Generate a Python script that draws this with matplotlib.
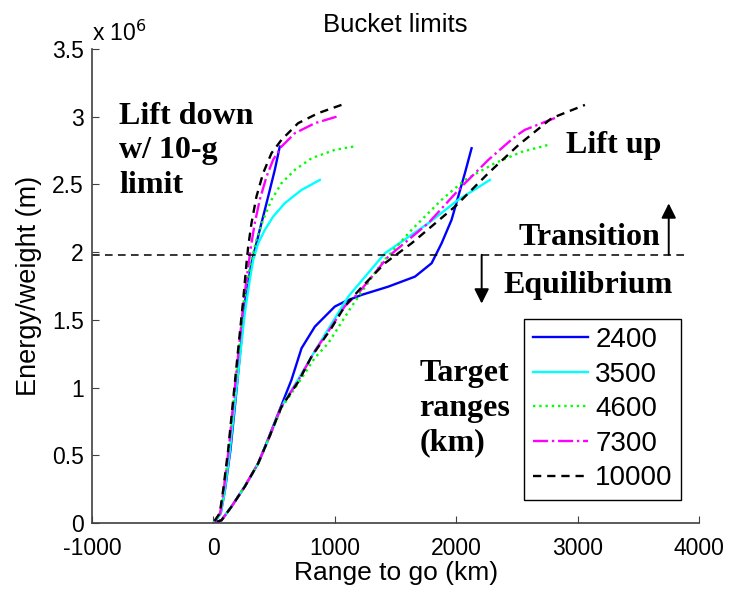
import numpy as np
import matplotlib
matplotlib.use("Agg")
import matplotlib.pyplot as plt
from matplotlib.ticker import FuncFormatter

plt.rcParams['font.family'] = ['Liberation Sans', 'DejaVu Sans']
plt.rcParams['axes.unicode_minus'] = False

# range to go (km) vs energy/weight (units of 1e6 m), one list per target range
# each trajectory: lift-down branch from its top end to the origin, then the lift-up branch
x_2400 = [546, 505, 464, 423, 381, 340, 313, 290, 262, 222, 182, 140, 95, 60, 26, 0,
          66, 148, 258, 368, 450, 560, 642, 725, 835, 999, 1081, 1219, 1439, 1659, 1796,
          1878, 1960, 2015, 2070, 2125]
y_2400 = [2.779, 2.607, 2.459, 2.312, 2.164, 2.016, 1.918, 1.80, 1.647, 1.278, 0.908, 0.539, 0.244, 0.072, 0.03, 0.0,
          0.02, 0.12, 0.27, 0.44, 0.62, 0.87, 1.056, 1.29, 1.45, 1.598, 1.635, 1.684, 1.745, 1.819, 1.918,
          2.065, 2.238, 2.41, 2.583, 2.767]

x_3500 = [876, 725, 587, 491, 423, 368, 327, 300, 258, 215, 172, 131, 90, 60, 26, 0,
          66, 148, 258, 368, 450, 560, 697, 835, 972, 1110, 1411, 1768, 2015, 2276]
y_3500 = [2.533, 2.459, 2.361, 2.262, 2.164, 2.065, 1.942, 1.80, 1.55, 1.20, 0.85, 0.50, 0.22, 0.07, 0.03, 0.0,
          0.02, 0.12, 0.27, 0.44, 0.613, 0.86, 1.06, 1.27, 1.47, 1.672, 1.991, 2.213, 2.386, 2.533]

x_4600 = [1151, 999, 807, 670, 560, 478, 409, 354, 313, 292, 252, 210, 168, 127, 86, 57, 24, 0,
          66, 148, 258, 368, 450, 560, 697, 835, 945, 1137, 1384, 1631, 1878, 2070, 2317, 2537, 2757]
y_4600 = [2.779, 2.755, 2.693, 2.607, 2.509, 2.386, 2.238, 2.09, 1.942, 1.85, 1.647, 1.278, 0.908, 0.539, 0.244, 0.072, 0.03, 0.0,
          0.02, 0.12, 0.27, 0.44, 0.61, 0.85, 1.03, 1.22, 1.327, 1.598, 1.918, 2.164, 2.386, 2.533, 2.657, 2.74, 2.792]

x_7300 = [1013, 835, 670, 560, 491, 437, 381, 340, 313, 290, 250, 208, 166, 125, 84, 55, 22, 0,
          66, 148, 258, 368, 450, 560, 697, 835, 972, 1081, 1192, 1439, 1768, 2043, 2263, 2482, 2564, 2839]
y_7300 = [3.0, 2.952, 2.878, 2.779, 2.681, 2.558, 2.386, 2.213, 2.065, 1.917, 1.647, 1.278, 0.908, 0.539, 0.244, 0.072, 0.03, 0.0,
          0.02, 0.12, 0.27, 0.44, 0.613, 0.86, 1.05, 1.27, 1.45, 1.60, 1.696, 1.967, 2.213, 2.484, 2.681, 2.853, 2.903, 3.0]

x_10000 = [1054, 862, 697, 560, 478, 409, 354, 313, 286, 272, 245, 203, 162, 121, 80, 52, 20, 0,
           66, 148, 258, 368, 450, 560, 697, 807, 972, 1081, 1219, 1411, 1631, 1988, 2263, 2510, 2784, 3058]
y_10000 = [3.087, 3.026, 2.952, 2.829, 2.731, 2.583, 2.41, 2.213, 2.04, 1.917, 1.647, 1.278, 0.908, 0.539, 0.244, 0.072, 0.03, 0.0,
           0.02, 0.12, 0.268, 0.44, 0.613, 0.859, 1.04, 1.228, 1.44, 1.60, 1.74, 1.918, 2.065, 2.336, 2.583, 2.79, 2.989, 3.087]

labels = ['2400', '3500', '4600', '7300', '10000']
transition_level = 1.98  # 1e6 m

xs = [x_2400, x_3500, x_4600, x_7300, x_10000]
ys = [y_2400, y_3500, y_4600, y_7300, y_10000]
colors = ['#0000ff', '#00ffff', '#00ff00', '#ff00ff', '#000000']
styles = ['-', '-', ':', '-.', (0, (3.5, 2.5))]

fig = plt.figure(figsize=(7.3, 5.9), dpi=100)
ax = fig.add_axes([0.126, 0.1136, 0.832, 0.8034])

for x, y, c, ls, lab in zip(xs, ys, colors, styles, labels):
    ax.plot(x, np.array(y) * 1e6, color=c, linestyle=ls, lw=1.7, label=lab)

ax.plot([-1000, 3900], [transition_level * 1e6] * 2, color='k', lw=1.1, linestyle=(0, (5, 3.5)))

ax.set_xlim(-1000, 4000)
ax.set_ylim(0, 3.5e6)
ax.set_xticks(np.arange(-1000, 4001, 1000))
ax.set_yticks(np.arange(0, 3.51e6, 0.5e6))
ax.yaxis.set_major_formatter(FuncFormatter(lambda v, p: f"{v / 1e6:g}"))
ax.tick_params(direction='in', length=5, labelsize=16.5, color='#404040')
ax.tick_params(axis='x', pad=10)
ax.tick_params(axis='y', pad=6)
for s in ['top', 'right']:
    ax.spines[s].set_visible(False)
for s in ['left', 'bottom']:
    ax.spines[s].set_color('#404040')
    ax.spines[s].set_linewidth(1.2)

ax.text(0.0, 1.017, r'x 10$^{6}$', transform=ax.transAxes, fontsize=16.5, ha='left', va='baseline')
ax.set_title('Bucket limits', fontsize=18.5, pad=12)
ax.set_xlabel('Range to go (km)', fontsize=19, labelpad=1)
ax.set_ylabel('Energy/weight (m)', fontsize=19.5, labelpad=7)

serif = dict(family='Liberation Serif', fontweight='bold', fontsize=23)
ax.text(-775, 3.11e6, 'Lift down\nw/ 10-g\nlimit', va='top', ha='left', linespacing=1.25, **serif)
ax.text(2905, 2.73e6, 'Lift up', va='baseline', ha='left', **serif)
ax.text(2515, 2.05e6, 'Transition', va='baseline', ha='left', **serif)
ax.text(2385, 1.70e6, 'Equilibrium', va='baseline', ha='left', **serif)
ax.text(1697, 1.21e6, 'Target\nranges\n(km)', va='top', ha='left', linespacing=1.25, **serif)

arrow = dict(arrowstyle='-|>', color='k', lw=1.4, mutation_scale=22, shrinkA=0, shrinkB=0)
ax.annotate('', xy=(3748, 2.36e6), xytext=(3748, transition_level * 1e6), arrowprops=arrow)
ax.annotate('', xy=(2208, 1.62e6), xytext=(2208, transition_level * 1e6), arrowprops=arrow)

leg = ax.legend(loc='lower right', bbox_to_anchor=(0.97, 0.049), fontsize=20, fancybox=False,
                framealpha=1, edgecolor='k', borderaxespad=0, handlelength=2.0,
                labelspacing=0.31, handletextpad=0.25, borderpad=0.3)
leg.get_frame().set_linewidth(1.0)

fig.savefig('out.png', dpi=100)
